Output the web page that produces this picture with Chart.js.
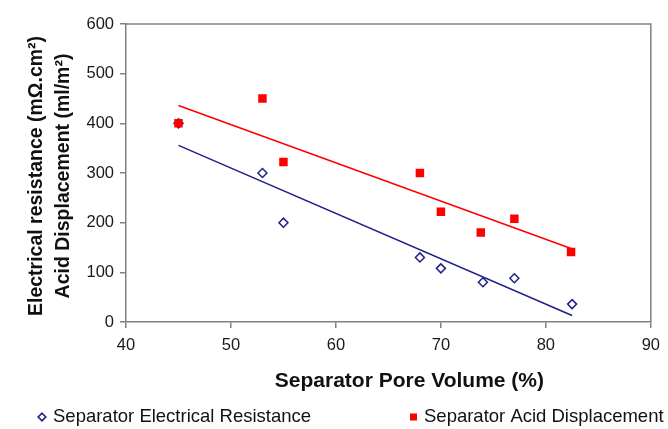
<!DOCTYPE html>
<html>
<head>
<meta charset="utf-8">
<script src="https://cdn.jsdelivr.net/npm/chart.js@4/dist/chart.umd.min.js"></script>
<style>
  html, body { margin: 0; padding: 0; background: #fff; }
  #wrap { width: 668px; height: 429px; position: relative; }
</style>
</head>
<body>
<div id="wrap"><canvas id="c" width="668" height="429"></canvas></div>
<script>
// ---- Data ----
const poreVolume = [45, 53, 55, 68, 70, 74, 77, 82.5];            // Separator Pore Volume (%)
const electricalResistance = [400, 300, 200, 130, 108, 80, 88, 36]; // mΩ.cm²
const acidPoreVolume = [45, 53, 55, 68, 70, 73.8, 77, 82.4];
const acidDisplacement = [400, 450, 322, 300, 222, 180, 208, 141];  // ml/m²
const xTicks = [40, 50, 60, 70, 80, 90];
const yTicks = [0, 100, 200, 300, 400, 500, 600];
const seriesNames = ['Separator Electrical Resistance', 'Separator Acid Displacement'];
const xTitle = 'Separator Pore Volume (%)';
const yTitle = ['Electrical resistance (m\u03A9.cm\u00B2)', 'Acid Displacement (ml/m\u00B2)'];

// ---- helpers ----
function pts(xs, ys) { return xs.map((x, i) => ({ x: x, y: ys[i] })); }
function trend(xs, ys) {
  const n = xs.length;
  const mx = xs.reduce((a, b) => a + b, 0) / n;
  const my = ys.reduce((a, b) => a + b, 0) / n;
  let sxy = 0, sxx = 0;
  for (let i = 0; i < n; i++) { sxy += (xs[i] - mx) * (ys[i] - my); sxx += (xs[i] - mx) ** 2; }
  const m = sxy / sxx, b = my - m * mx;
  const x0 = Math.min(...xs), x1 = Math.max(...xs);
  return [{ x: x0, y: m * x0 + b }, { x: x1, y: m * x1 + b }];
}

const BLUE = '#1f1f8a';
const RED = '#ff0000';
const GRAY = '#808080';
const TEXT = '#111111';
const FONT = "'Liberation Sans', Arial, sans-serif";

const boxPlugin = {
  id: 'box',
  beforeDatasetsDraw(chart) {
    const { ctx, chartArea: a } = chart;
    ctx.save();
    ctx.strokeStyle = GRAY;
    ctx.lineWidth = 1.5;
    ctx.beginPath();
    ctx.moveTo(a.left, a.top); ctx.lineTo(a.right, a.top); ctx.lineTo(a.right, a.bottom);
    ctx.stroke();
    ctx.restore();
  }
};

const titlesPlugin = {
  id: 'titles',
  afterDraw(chart) {
    const { ctx, chartArea: a } = chart;
    ctx.save();
    ctx.fillStyle = TEXT;
    ctx.textAlign = 'center';
    ctx.textBaseline = 'middle';
    // x axis title
    ctx.font = 'bold 21px ' + FONT;
    ctx.fillText(xTitle, a.left + (a.right - a.left) * 0.54, 381);
    // y axis titles (rotated)
    ctx.font = 'bold 19.5px ' + FONT;
    const cy = (a.top + a.bottom) / 2 + 3;
    [37, 64].forEach((x, i) => {
      ctx.save();
      ctx.translate(x, cy);
      ctx.rotate(-Math.PI / 2);
      ctx.fillText(yTitle[i], 0, 0);
      ctx.restore();
    });
    ctx.restore();
  }
};

const legendPlugin = {
  id: 'customLegend',
  afterDraw(chart) {
    const { ctx } = chart;
    ctx.save();
    ctx.font = '18.5px ' + FONT;
    ctx.textBaseline = 'middle';
    ctx.textAlign = 'left';
    const y = 417;
    // blue diamond
    ctx.strokeStyle = BLUE; ctx.lineWidth = 1.6;
    const dx = 42, r = 3.8;
    ctx.beginPath();
    ctx.moveTo(dx, y - r); ctx.lineTo(dx + r, y); ctx.lineTo(dx, y + r); ctx.lineTo(dx - r, y); ctx.closePath();
    ctx.stroke();
    ctx.fillStyle = TEXT;
    ctx.fillText(seriesNames[0], 53, y);
    // red square
    ctx.fillStyle = RED;
    ctx.fillRect(410, y - 3.5, 7, 7);
    ctx.fillStyle = TEXT;
    ctx.fillText(seriesNames[1], 424, y);
    ctx.restore();
  }
};

new Chart(document.getElementById('c'), {
  type: 'scatter',
  data: {
    datasets: [
      {
        label: seriesNames[1],
        data: pts(acidPoreVolume, acidDisplacement),
        pointStyle: 'rect',
        pointRadius: 6,
        pointBackgroundColor: RED,
        pointBorderColor: RED,
        pointBorderWidth: 0,
        order: 0
      },
      {
        label: seriesNames[0],
        data: pts(poreVolume, electricalResistance),
        pointStyle: 'rectRot',
        pointRadius: 4.5,
        pointBackgroundColor: '#ffffff',
        pointBorderColor: BLUE,
        pointBorderWidth: 1.5,
        order: 1
      },
      {
        type: 'line',
        label: 'trend acid',
        data: trend(acidPoreVolume, acidDisplacement),
        borderColor: RED,
        borderWidth: 1.5,
        pointRadius: 0,
        fill: false,
        order: 2
      },
      {
        type: 'line',
        label: 'trend resistance',
        data: trend(poreVolume, electricalResistance),
        borderColor: BLUE,
        borderWidth: 1.5,
        pointRadius: 0,
        fill: false,
        order: 2
      }
    ]
  },
  options: {
    responsive: false,
    animation: false,
    devicePixelRatio: 1,
    layout: { padding: { left: 0, right: 16, top: 24, bottom: 0 } },
    plugins: { legend: { display: false }, tooltip: { enabled: false } },
    scales: {
      x: {
        type: 'linear',
        min: 40, max: 90,
        afterBuildTicks(scale) { scale.ticks = xTicks.map(v => ({ value: v })); },
        afterFit(scale) { scale.height = 107; },
        ticks: { font: { family: FONT, size: 16.5 }, color: '#1a1a1a', padding: 8 },
        grid: { display: true, drawOnChartArea: false, tickLength: 6, color: GRAY, lineWidth: 1.5 },
        border: { display: true, color: GRAY, width: 1.5 },
        title: { display: false }
      },
      y: {
        type: 'linear',
        min: 0, max: 600,
        afterBuildTicks(scale) { scale.ticks = yTicks.map(v => ({ value: v })); },
        afterFit(scale) { scale.width = 126; },
        ticks: { font: { family: FONT, size: 16.5 }, color: '#1a1a1a', padding: 6 },
        grid: { display: true, drawOnChartArea: false, tickLength: 6, color: GRAY, lineWidth: 1.5 },
        border: { display: true, color: GRAY, width: 1.5 },
        title: { display: false }
      }
    }
  },
  plugins: [boxPlugin, titlesPlugin, legendPlugin]
});
</script>
</body>
</html>
